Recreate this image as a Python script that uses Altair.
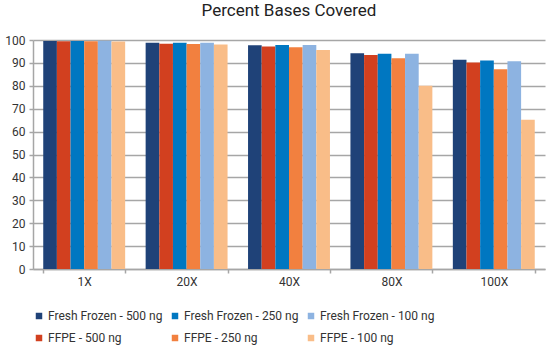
import altair as alt
import pandas as pd

coverages = ["1X", "20X", "40X", "80X", "100X"]
series = ["Fresh Frozen - 500 ng", "FFPE - 500 ng", "Fresh Frozen - 250 ng",
          "FFPE - 250 ng", "Fresh Frozen - 100 ng", "FFPE - 100 ng"]
legend_order = ["Fresh Frozen - 500 ng", "Fresh Frozen - 250 ng", "Fresh Frozen - 100 ng",
                "FFPE - 500 ng", "FFPE - 250 ng", "FFPE - 100 ng"]
legend_colors = ["#1F4278", "#0077C1", "#8DB3E1", "#D2401F", "#F2803F", "#F9BD88"]

values = {
    "Fresh Frozen - 500 ng": [99.6, 98.8, 97.7, 94.2, 91.4],
    "FFPE - 500 ng":         [99.5, 98.4, 97.2, 93.4, 90.2],
    "Fresh Frozen - 250 ng": [99.6, 98.8, 97.8, 94.0, 91.1],
    "FFPE - 250 ng":         [99.5, 98.3, 96.8, 92.0, 87.2],
    "Fresh Frozen - 100 ng": [99.7, 98.8, 97.8, 94.0, 90.7],
    "FFPE - 100 ng":         [99.3, 98.0, 95.6, 80.0, 65.2],
}

rows = []
for s in series:
    for c, v in zip(coverages, values[s]):
        rows.append({"Coverage": c, "Sample": s, "Percent": v})
df = pd.DataFrame(rows)

font = "Roboto"

chart = alt.Chart(df).mark_bar().encode(
    x=alt.X("Coverage:N", sort=coverages,
            scale=alt.Scale(paddingInner=0.2, paddingOuter=0.1),
            axis=alt.Axis(title=None, labelAngle=0, tickBand="extent",
                          labelPadding=3, tickSize=4)),
    xOffset=alt.XOffset("Sample:N", sort=series, scale=alt.Scale(padding=0, paddingInner=0)),
    y=alt.Y("Percent:Q", scale=alt.Scale(domain=[0, 100], nice=False),
            axis=alt.Axis(title=None, values=list(range(0, 101, 10)), tickSize=4,
                          labelPadding=4)),
    color=alt.Color("Sample:N",
                    scale=alt.Scale(domain=legend_order, range=legend_colors),
                    legend=alt.Legend(title=None, orient="none", legendX=0, legendY=270,
                                      columns=3, direction="horizontal",
                                      symbolType="square", symbolSize=42,
                                      symbolStrokeWidth=0, labelOffset=3,
                                      columnPadding=6, rowPadding=10,
                                      labelFontSize=12, labelColor="#333333",
                                      labelFont=font, labelLimit=200)),
).properties(
    width=512, height=229,
    title=alt.TitleParams("Percent Bases Covered", fontSize=17, font=font,
                          fontWeight="normal", color="#222222", offset=14, anchor="middle"),
    autosize=alt.AutoSizeParams(type="none"),
    padding={"left": 33, "top": 40, "right": 9, "bottom": 83},
).configure_view(stroke=None).configure_axis(
    labelFont=font, labelFontSize=12, labelColor="#333333",
    domainColor="#A6A6A6", tickColor="#A6A6A6", gridColor="#A6A6A6",
    gridWidth=1.5, domainWidth=1.5, tickWidth=1.5,
).configure_axisX(grid=False)

chart.save("out.html", embed_options={"renderer": "svg", "actions": False})
